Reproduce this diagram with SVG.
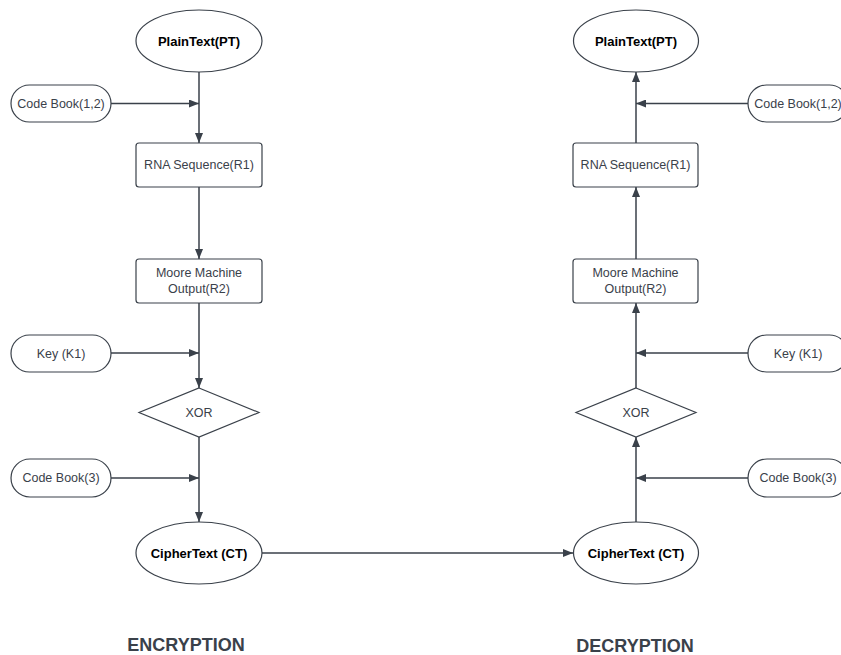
<svg xmlns="http://www.w3.org/2000/svg" width="841" height="655" viewBox="0 0 841 655">
<defs>
<marker id="arr" markerWidth="10" markerHeight="8" refX="10" refY="4" orient="auto" markerUnits="userSpaceOnUse">
<path d="M0,0 L10,4 L0,8 Z" fill="#3a414a"/>
</marker>
<style>
.shape{fill:#fff;stroke:#3a414a;stroke-width:1.2}
.t{font-family:"Liberation Sans",Arial,sans-serif;font-size:12.5px;fill:#3a414a;text-anchor:middle;dominant-baseline:central}
.b{font-family:"Liberation Sans",Arial,sans-serif;font-size:13px;font-weight:bold;fill:#000;text-anchor:middle;dominant-baseline:central}
.h{font-family:"Liberation Sans",Arial,sans-serif;font-size:18px;font-weight:bold;fill:#3a414a;text-anchor:middle;dominant-baseline:central}
.c{fill:none;stroke:#3a414a;stroke-width:1.5;marker-end:url(#arr)}
</style>
</defs>
<rect width="841" height="655" fill="#fff"/>
<g id="connectors">
<path class="c" d="M199,72 V143"/>
<path class="c" d="M111,103.5 H199"/>
<path class="c" d="M199,187 V259"/>
<path class="c" d="M199,303 V388"/>
<path class="c" d="M111,353 H199"/>
<path class="c" d="M199,437 V522"/>
<path class="c" d="M111,478 H199"/>
<path class="c" d="M262,553 H573"/>
<path class="c" d="M636,522 V437"/>
<path class="c" d="M748,478 H636"/>
<path class="c" d="M636,388 V303"/>
<path class="c" d="M748,353 H636"/>
<path class="c" d="M636,259 V187"/>
<path class="c" d="M636,143 V72"/>
<path class="c" d="M748,103.5 H636"/>
</g>
<g id="enc-pt"><ellipse class="shape" cx="199" cy="41" rx="63" ry="31"/><text class="b" x="199" y="41">PlainText(PT)</text></g>
<g id="enc-cb12"><rect class="shape" x="11" y="85" width="100" height="37" rx="18.5"/><text class="t" x="61" y="103.5">Code Book(1,2)</text></g>
<g id="enc-rna"><rect class="shape" x="136" y="143" width="126" height="44" rx="3"/><text class="t" x="199" y="165">RNA Sequence(R1)</text></g>
<g id="enc-moore"><rect class="shape" x="136" y="259" width="126" height="44" rx="3"/><text class="t" x="199" y="273">Moore Machine</text><text class="t" x="199" y="289">Output(R2)</text></g>
<g id="enc-key"><rect class="shape" x="11" y="335" width="100" height="37" rx="18.5"/><text class="t" x="61" y="353.5">Key (K1)</text></g>
<g id="enc-xor"><polygon class="shape" points="199,388 259,412.5 199,437 139,412.5"/><text class="t" x="199" y="412.5">XOR</text></g>
<g id="enc-cb3"><rect class="shape" x="11" y="459" width="100" height="38" rx="19"/><text class="t" x="61" y="478">Code Book(3)</text></g>
<g id="enc-ct"><ellipse class="shape" cx="199" cy="553" rx="63" ry="31"/><text class="b" x="199" y="553">CipherText (CT)</text></g>
<g id="dec-pt"><ellipse class="shape" cx="636" cy="41" rx="62.5" ry="31"/><text class="b" x="636" y="41">PlainText(PT)</text></g>
<g id="dec-cb12"><rect class="shape" x="748" y="85" width="100" height="37" rx="18.5"/><text class="t" x="798" y="103.5">Code Book(1,2)</text></g>
<g id="dec-rna"><rect class="shape" x="573" y="143" width="125" height="44" rx="3"/><text class="t" x="635.5" y="165">RNA Sequence(R1)</text></g>
<g id="dec-moore"><rect class="shape" x="573" y="259" width="125" height="44" rx="3"/><text class="t" x="635.5" y="273">Moore Machine</text><text class="t" x="635.5" y="289">Output(R2)</text></g>
<g id="dec-key"><rect class="shape" x="748" y="335" width="100" height="37" rx="18.5"/><text class="t" x="798" y="353.5">Key (K1)</text></g>
<g id="dec-xor"><polygon class="shape" points="636,388 696,412.5 636,437 576,412.5"/><text class="t" x="636" y="412.5">XOR</text></g>
<g id="dec-cb3"><rect class="shape" x="748" y="459" width="100" height="38" rx="19"/><text class="t" x="798" y="478">Code Book(3)</text></g>
<g id="dec-ct"><ellipse class="shape" cx="636" cy="553" rx="62.5" ry="31"/><text class="b" x="636" y="553">CipherText (CT)</text></g>
<text class="h" x="186" y="645">ENCRYPTION</text>
<text class="h" x="635" y="646">DECRYPTION</text>
</svg>
